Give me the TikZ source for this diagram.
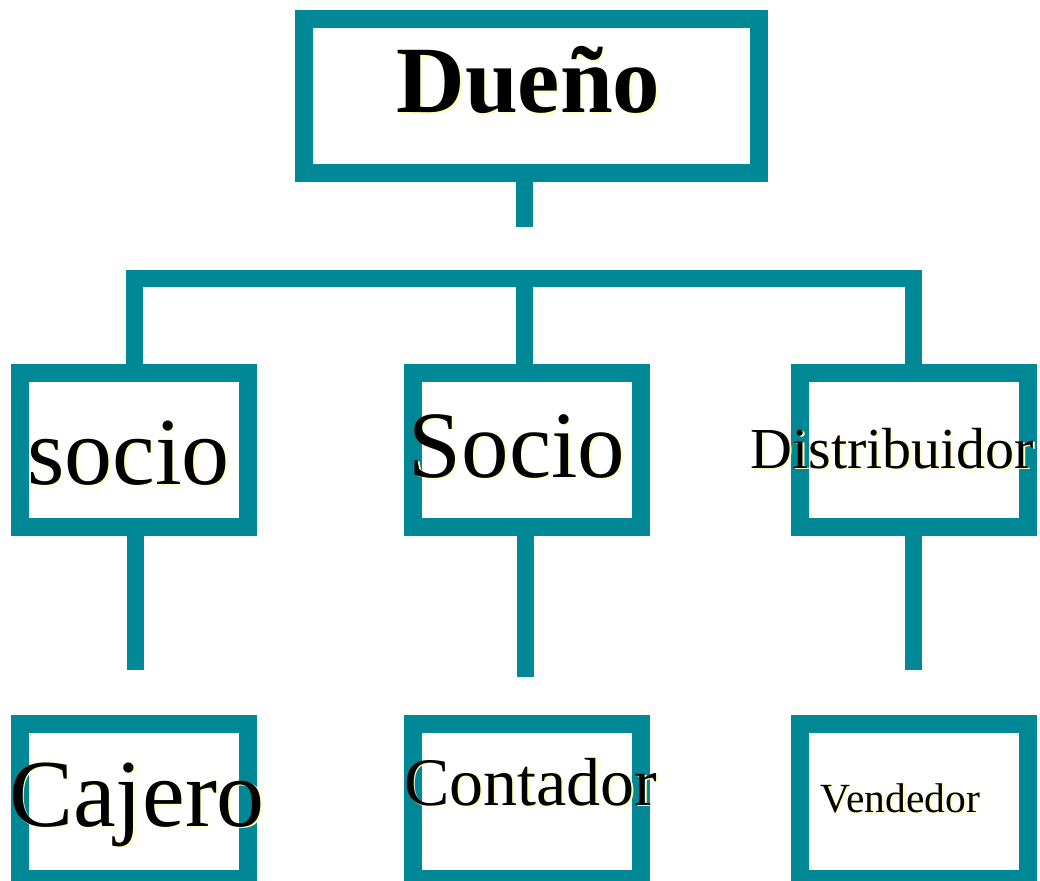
\documentclass[tikz,border=0pt]{standalone}
\usepackage{fontspec}
\setmainfont{Liberation Serif}
\definecolor{teal}{RGB}{0,136,150}
\definecolor{glow}{RGB}{255,255,185}
\tikzset{
  orgbox/.style={draw=teal, line width=18pt, fill=white, inner sep=0pt, outer sep=0pt, minimum width=228pt, minimum height=154pt},
  conn/.style={draw=teal, line width=17pt, line cap=butt, line join=miter},
  lbl/.style={anchor=base, inner sep=0pt, outer sep=0pt, text=black},
  lblglow/.style={anchor=base, inner sep=0pt, outer sep=0pt, text=glow},
}
\newcommand{\fsz}[1]{\fontsize{#1}{#1}\selectfont}
\begin{document}
\begin{tikzpicture}[x=1pt,y=-1pt]
\useasboundingbox (0,0) rectangle (1040,880);
% coordinates for connectors
\coordinate (topstubA) at (524,173);
\coordinate (topstubB) at (524,227);
\coordinate (busL) at (134,278);
\coordinate (busM) at (524.5,278);
\coordinate (busR) at (913,278);
\coordinate (endL) at (135,670);
\coordinate (endM) at (525,677);
\coordinate (endR) at (913,670);
% boxes
\node[orgbox, minimum width=455pt] (dueno) at (531.5,96) {};
\node[orgbox] (socioA) at (134,450) {};
\node[orgbox] (socioB) at (527,450) {};
\node[orgbox] (distr) at (914,450) {};
\node[orgbox, minimum height=155pt] (cajero) at (134,801.5) {};
\node[orgbox, minimum height=155pt] (contador) at (527,801.5) {};
\node[orgbox, minimum height=155pt] (vendedor) at (914,801.5) {};
% connectors
\draw[conn] (topstubA) -- (topstubB);
\draw[conn] (busL |- socioA.north) -- (busL) -- (busR) -- (busR |- distr.north);
\draw[conn] (busM) -- (busM |- socioB.north);
\draw[conn] (endL |- socioA.south) -- (endL);
\draw[conn] (endM |- socioB.south) -- (endM);
\draw[conn] (endR |- distr.south) -- (endR);
% labels (glow then text)
\node[lblglow] (tDuenoG) at (530,114.5) {\fsz{95}\bfseries Dueño};
\node[lbl] (tDueno) at (528.5,113) {\fsz{95}\bfseries Dueño};
\node[lblglow] (tSocioAG) at (130,485.5) {\fsz{96}socio};
\node[lbl] (tSocioA) at (128.5,484) {\fsz{96}socio};
\node[lblglow] (tSocioBG) at (518.5,478.5) {\fsz{95}Socio};
\node[lbl] (tSocioB) at (517,477) {\fsz{95}Socio};
\node[lblglow] (tDistrG) at (894,469.5) {\fsz{58}Distribuidor};
\node[lbl] (tDistr) at (892.5,468) {\fsz{58}Distribuidor};
\node[lblglow] (tCajeroG) at (138.5,827.5) {\fsz{96}Cajero};
\node[lbl] (tCajero) at (137,826) {\fsz{96}Cajero};
\node[lblglow] (tContG) at (532.5,806.5) {\fsz{68}Contador};
\node[lbl] (tCont) at (531,805) {\fsz{68}Contador};
\node[lblglow] (tVendG) at (902,813.5) {\fsz{41.5}Vendedor};
\node[lbl] (tVend) at (900.5,812) {\fsz{41.5}Vendedor};
\end{tikzpicture}
\end{document}
